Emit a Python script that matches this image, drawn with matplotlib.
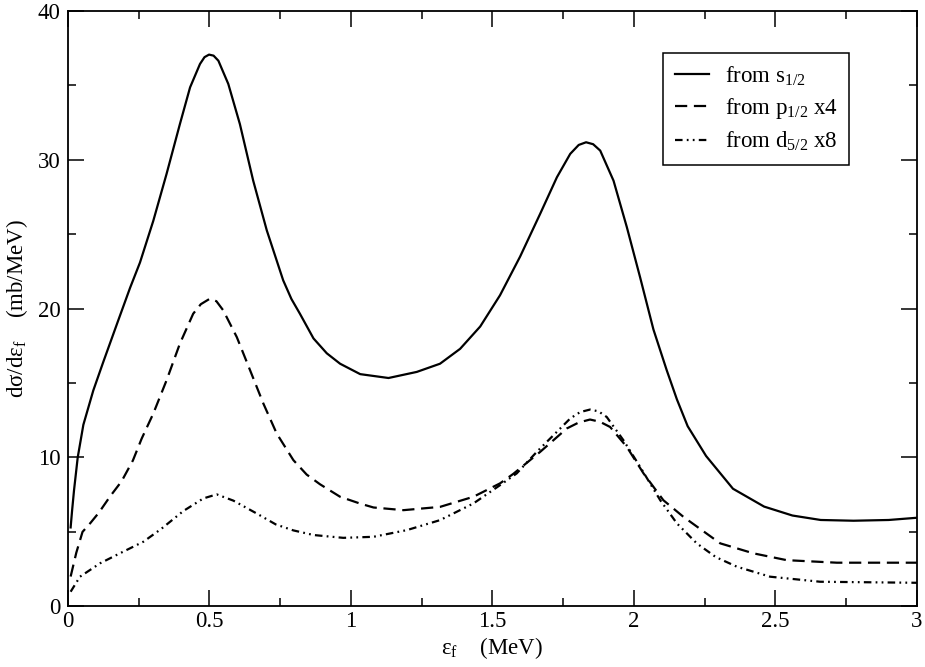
import matplotlib
matplotlib.use('Agg')
import matplotlib.pyplot as plt
from matplotlib.ticker import MultipleLocator, FuncFormatter

plt.rcParams['font.family'] = ['Liberation Serif', 'DejaVu Serif']
plt.rcParams['mathtext.fontset'] = 'custom'
plt.rcParams['mathtext.rm'] = 'Liberation Serif'
plt.rcParams['mathtext.it'] = 'Liberation Serif:italic'

# from s1/2
x_s = [0.01, 0.015, 0.022, 0.035, 0.055, 0.09, 0.125, 0.178, 0.22, 0.255, 0.302, 0.349,
       0.396, 0.432, 0.467, 0.483, 0.499, 0.515, 0.532, 0.567, 0.608, 0.655, 0.703, 0.761,
       0.79, 0.82, 0.868, 0.915, 0.962, 1.033, 1.133, 1.233, 1.315, 1.386, 1.457, 1.527,
       1.598, 1.669, 1.728, 1.775, 1.805, 1.831, 1.856, 1.881, 1.928, 1.975, 2.022, 2.069,
       2.116, 2.152, 2.19, 2.255, 2.35, 2.46, 2.56, 2.66, 2.776, 2.9, 3.0]
y_s = [5.3, 6.4, 7.8, 10.0, 12.2, 14.5, 16.4, 19.2, 21.4, 23.1, 25.9, 29.06,
       32.4, 34.87, 36.44, 36.9, 37.07, 37.0, 36.66, 35.1, 32.4, 28.6, 25.26, 21.9,
       20.65, 19.66, 18.0, 17.0, 16.3, 15.6, 15.34, 15.75, 16.3, 17.3, 18.8, 20.9,
       23.5, 26.38, 28.83, 30.4, 31.0, 31.18, 31.05, 30.62, 28.6, 25.48, 22.1, 18.6,
       15.86, 13.9, 12.1, 10.1, 7.9, 6.7, 6.1, 5.8, 5.75, 5.8, 5.95]

# from p1/2 x4
x_p = [0.01, 0.03, 0.052, 0.08, 0.11, 0.15, 0.19, 0.23, 0.261, 0.302, 0.349, 0.396,
       0.443, 0.47, 0.502, 0.525, 0.549, 0.597, 0.644, 0.691, 0.738, 0.797, 0.844, 0.891,
       0.962, 1.033, 1.08, 1.186, 1.315, 1.433, 1.527, 1.574, 1.669, 1.763, 1.805, 1.845,
       1.88, 1.916, 1.975, 2.034, 2.104, 2.175, 2.234, 2.305, 2.422, 2.54, 2.717, 3.0]
y_p = [2.0, 3.6, 5.0, 5.6, 6.3, 7.4, 8.4, 9.8, 11.27, 12.95, 15.19, 17.65,
       19.66, 20.3, 20.67, 20.5, 19.89, 18.09, 15.86, 13.62, 11.61, 9.82, 8.85, 8.2,
       7.36, 6.9, 6.64, 6.46, 6.68, 7.36, 8.26, 8.9, 10.38, 11.95, 12.35, 12.55,
       12.4, 12.05, 10.71, 8.93, 7.13, 6.01, 5.2, 4.23, 3.56, 3.1, 2.93, 2.93]

# from d5/2 x8
x_d = [0.01, 0.043, 0.114, 0.184, 0.267, 0.33, 0.408, 0.479, 0.526, 0.585, 0.667,
       0.735, 0.797, 0.868, 0.973, 1.08, 1.198, 1.315, 1.433, 1.527, 1.586, 1.657,
       1.716, 1.775, 1.81, 1.845, 1.875, 1.904, 1.963, 2.022, 2.093, 2.152, 2.222,
       2.29, 2.364, 2.481, 2.658, 3.0]
y_d = [0.98, 1.99, 2.89, 3.56, 4.34, 5.2, 6.4, 7.25, 7.52, 7.1, 6.24,
       5.5, 5.1, 4.79, 4.6, 4.67, 5.12, 5.79, 6.91, 8.14, 8.93, 10.38,
       11.5, 12.62, 13.05, 13.22, 13.1, 12.72, 11.16, 9.37, 7.13, 5.57, 4.23,
       3.3, 2.66, 1.99, 1.65, 1.58]

fig = plt.figure(figsize=(9.25, 6.67), dpi=100)
ax = fig.add_axes([0.0733, 0.091, 0.918, 0.8925])

lw = 1.6
ax.plot(x_s, y_s, 'k-', lw=lw, label=r'from s$_{\mathrm{1/2}}$')
ax.plot(x_p, y_p, 'k', lw=lw, dashes=(5.5, 3.0), label=r'from p$_{\mathrm{1/2}}$ x4')
ax.plot(x_d, y_d, 'k', lw=lw, dashes=(3.4, 1.9, 0.8, 1.9, 0.8, 1.9),
        label=r'from d$_{\mathrm{5/2}}$ x8')

ax.set_xlim(0, 3)
ax.set_ylim(0, 40)
ax.xaxis.set_major_locator(MultipleLocator(0.5))
ax.xaxis.set_minor_locator(MultipleLocator(0.25))
ax.yaxis.set_major_locator(MultipleLocator(10))
ax.yaxis.set_minor_locator(MultipleLocator(5))
ax.xaxis.set_major_formatter(FuncFormatter(lambda v, p: '%g' % v))
ax.tick_params(which='both', direction='in', top=True, right=True, labelsize=16.5)
ax.tick_params(which='major', length=11.5, width=1.1)
ax.tick_params(which='minor', length=6, width=1.1)
ax.tick_params(axis='y', pad=5)
ax.tick_params(axis='x', pad=3.5)
for sp in ax.spines.values():
    sp.set_linewidth(1.3)

ax.set_xlabel(r'ε$_{\mathrm{f}}$    (MeV)', fontsize=16.5, labelpad=2)
ax.set_ylabel(r'dσ/dε$_{\mathrm{f}}$    (mb/MeV)', fontsize=16.5, labelpad=6)

leg = ax.legend(loc='upper left', bbox_to_anchor=(0.701, 0.9295), fontsize=16.5,
                fancybox=False, framealpha=1, edgecolor='k', handlelength=1.5,
                handletextpad=0.7, labelspacing=0.38, borderpad=0.5, borderaxespad=0)
leg.get_frame().set_linewidth(1.1)

fig.savefig('out.png', dpi=100)
